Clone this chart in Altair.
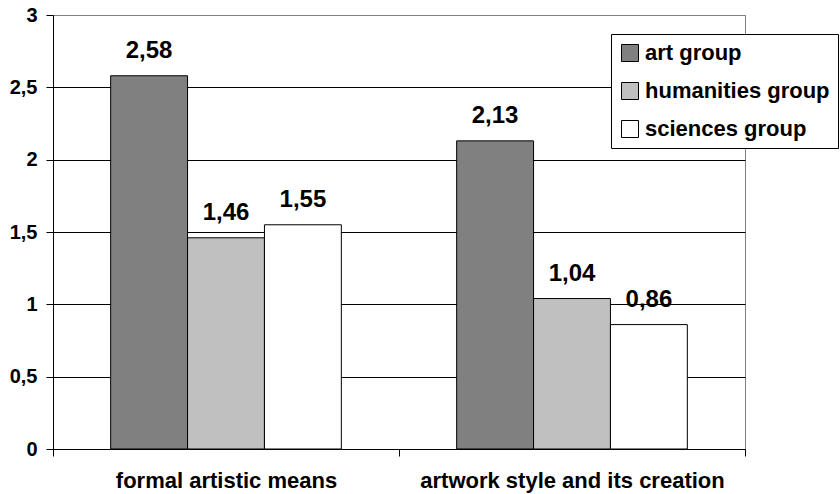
import altair as alt
import pandas as pd

categories = ["formal artistic means", "artwork style and its creation"]
groups = ["art group", "humanities group", "sciences group"]
art_values = [2.58, 2.13]
humanities_values = [1.46, 1.04]
sciences_values = [1.55, 0.86]
group_colors = ["#808080", "#c0c0c0", "#ffffff"]
y_ticks = [0, 0.5, 1, 1.5, 2, 2.5, 3]

rows = []
for g, vals in zip(groups, [art_values, humanities_values, sciences_values]):
    for c, v in zip(categories, vals):
        rows.append({"category": c, "group": g, "value": v})
df = pd.DataFrame(rows)

FONT = "Liberation Sans"

x_enc = alt.X(
    "category:N",
    sort=categories,
    scale=alt.Scale(paddingInner=0, paddingOuter=0),
    axis=alt.Axis(
        title=None, labelAngle=0, tickBand="extent", tickSize=7,
        tickColor="black", domainColor="black",
        labelFont=FONT, labelFontSize=22, labelFontWeight="bold",
        labelColor="black", labelPadding=31, labelBaseline="alphabetic",
        labelLimit=400,
    ),
)
xo_enc = alt.XOffset("group:N", sort=groups,
                     scale=alt.Scale(paddingInner=0, paddingOuter=0.75))
y_enc = alt.Y(
    "value:Q",
    scale=alt.Scale(domain=[0, 3], nice=False),
    axis=alt.Axis(
        title=None, values=y_ticks,
        labelExpr="replace(format(datum.value, '~g'), '.', ',')",
        tickSize=7, tickColor="black", domainColor="black",
        gridColor=alt.condition("datum.value == 3", alt.value("#808080"), alt.value("black")),
        gridWidth=1,
        labelFont=FONT, labelFontSize=20, labelFontWeight="bold",
        labelColor="black", labelPadding=9,
    ),
)

bars = alt.Chart(df).mark_bar(stroke="black", strokeWidth=1, opacity=1).encode(
    x=x_enc,
    xOffset=xo_enc,
    y=y_enc,
    color=alt.Color(
        "group:N",
        sort=groups,
        scale=alt.Scale(domain=groups, range=group_colors),
        legend=alt.Legend(
            title=None, orient="none", legendX=558, legendY=19,
            padding=8, strokeColor="black", fillColor="white",
            symbolType="square", symbolSize=289, symbolStrokeColor="black",
            symbolStrokeWidth=1, symbolOpacity=1,
            labelFont=FONT, labelFontSize=22, labelFontWeight="bold",
            labelColor="black", rowPadding=16, labelOffset=4, labelLimit=400,
        ),
    ),
)

labels = alt.Chart(df).transform_calculate(
    label="replace(format(datum.value, '.2f'), '.', ',')"
).mark_text(
    dy=-18, baseline="alphabetic", align="center",
    font=FONT, fontSize=24, fontWeight="bold", color="black",
).encode(
    x=alt.X("category:N", sort=categories),
    xOffset=alt.XOffset("group:N", sort=groups),
    y=alt.Y("value:Q"),
    text="label:N",
)

chart = alt.layer(bars, labels).properties(
    width=692,
    height=434,
    autosize=alt.AutoSizeParams(type="none"),
    padding={"left": 53, "top": 15, "right": 95, "bottom": 45},
    background="white",
).configure_view(stroke="#808080", strokeWidth=1)

chart.save("out.html", embed_options={"renderer": "svg", "actions": False})
